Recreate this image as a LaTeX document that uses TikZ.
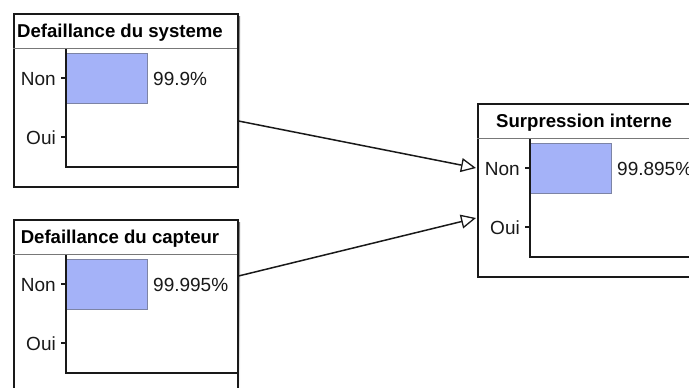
\documentclass[tikz,border=0pt]{standalone}
\usepackage{fontspec}
\setmainfont{Liberation Sans}
\usetikzlibrary{arrows.meta,calc}
\definecolor{barfill}{RGB}{164,178,248}
\definecolor{barline}{RGB}{125,132,165}
\definecolor{frame}{RGB}{25,25,25}
\definecolor{shade}{RGB}{175,175,175}
\definecolor{rule}{RGB}{120,120,120}

% One probability panel: name, left x, top y, title, value
\newcommand\probpanel[5]{%
  \fill[shade] (#2+3,#3+3) rectangle ++(224,173);
  \node[panel] (#1) at (#2,#3) {};
  \draw[sepline] (#2,#3+35) -- ++(224,0);
  \node[titletext] (#1-title) at (#2+107,#3+24) {#4};
  \fill[barfill] (#2+53,#3+40) rectangle (#2+134,#3+90);
  \draw[barline, line width=0.9pt] (#2+53,#3+40) rectangle (#2+134,#3+90);
  \draw[axisline] (#2+53,#3+36) -- (#2+53,#3+154) -- (#2+224,#3+154);
  \draw[axisline] (#2+48,#3+65) -- (#2+53,#3+65);
  \draw[axisline] (#2+48,#3+124) -- (#2+53,#3+124);
  \node[cattext] (#1-non) at (#2+43,#3+72) {Non};
  \node[cattext] (#1-oui) at (#2+43,#3+131) {Oui};
  \node[valtext] (#1-val) at (#2+140,#3+72) {#5};
}

\begin{document}
\begin{tikzpicture}[x=1pt,y=-1pt,
  panel/.style={draw=frame, line width=1.5pt, fill=white, inner sep=0pt,
    minimum width=224pt, minimum height=173pt, anchor=north west},
  sepline/.style={draw=rule, line width=0.9pt},
  axisline/.style={draw=frame, line width=1.2pt},
  titletext/.style={font=\fontsize{18.6}{20}\selectfont\bfseries, inner sep=0pt, anchor=base},
  cattext/.style={font=\fontsize{19}{21}\selectfont, inner sep=0pt, anchor=base east, text=black!90},
  valtext/.style={font=\fontsize{19}{21}\selectfont, inner sep=0pt, anchor=base west, text=black!90},
  link/.style={draw=frame, line width=1.5pt,
    -{Triangle[open, length=15pt, width=14pt, line width=1.3pt]}}
]
\useasboundingbox (0,0) rectangle (689,388);
\begin{scope}
\clip (0,0) rectangle (689,388);
\probpanel{sys}{13}{13}{Defaillance du systeme}{99.9\%}
\probpanel{cap}{13}{219}{Defaillance du capteur}{99.995\%}
\probpanel{sup}{477}{103}{Surpression interne}{99.895\%}
\end{scope}

\coordinate (sys-out) at ($(sys.north east)+(0,108)$);
\coordinate (cap-out) at ($(cap.north east)+(0,57)$);
\coordinate (sup-in1) at ($(sup.north west)+(-1,65)$);
\coordinate (sup-in2) at ($(sup.north west)+(-1,115)$);
\draw[link] (sys-out) -- (sup-in1);
\draw[link] (cap-out) -- (sup-in2);
\end{tikzpicture}
\end{document}
